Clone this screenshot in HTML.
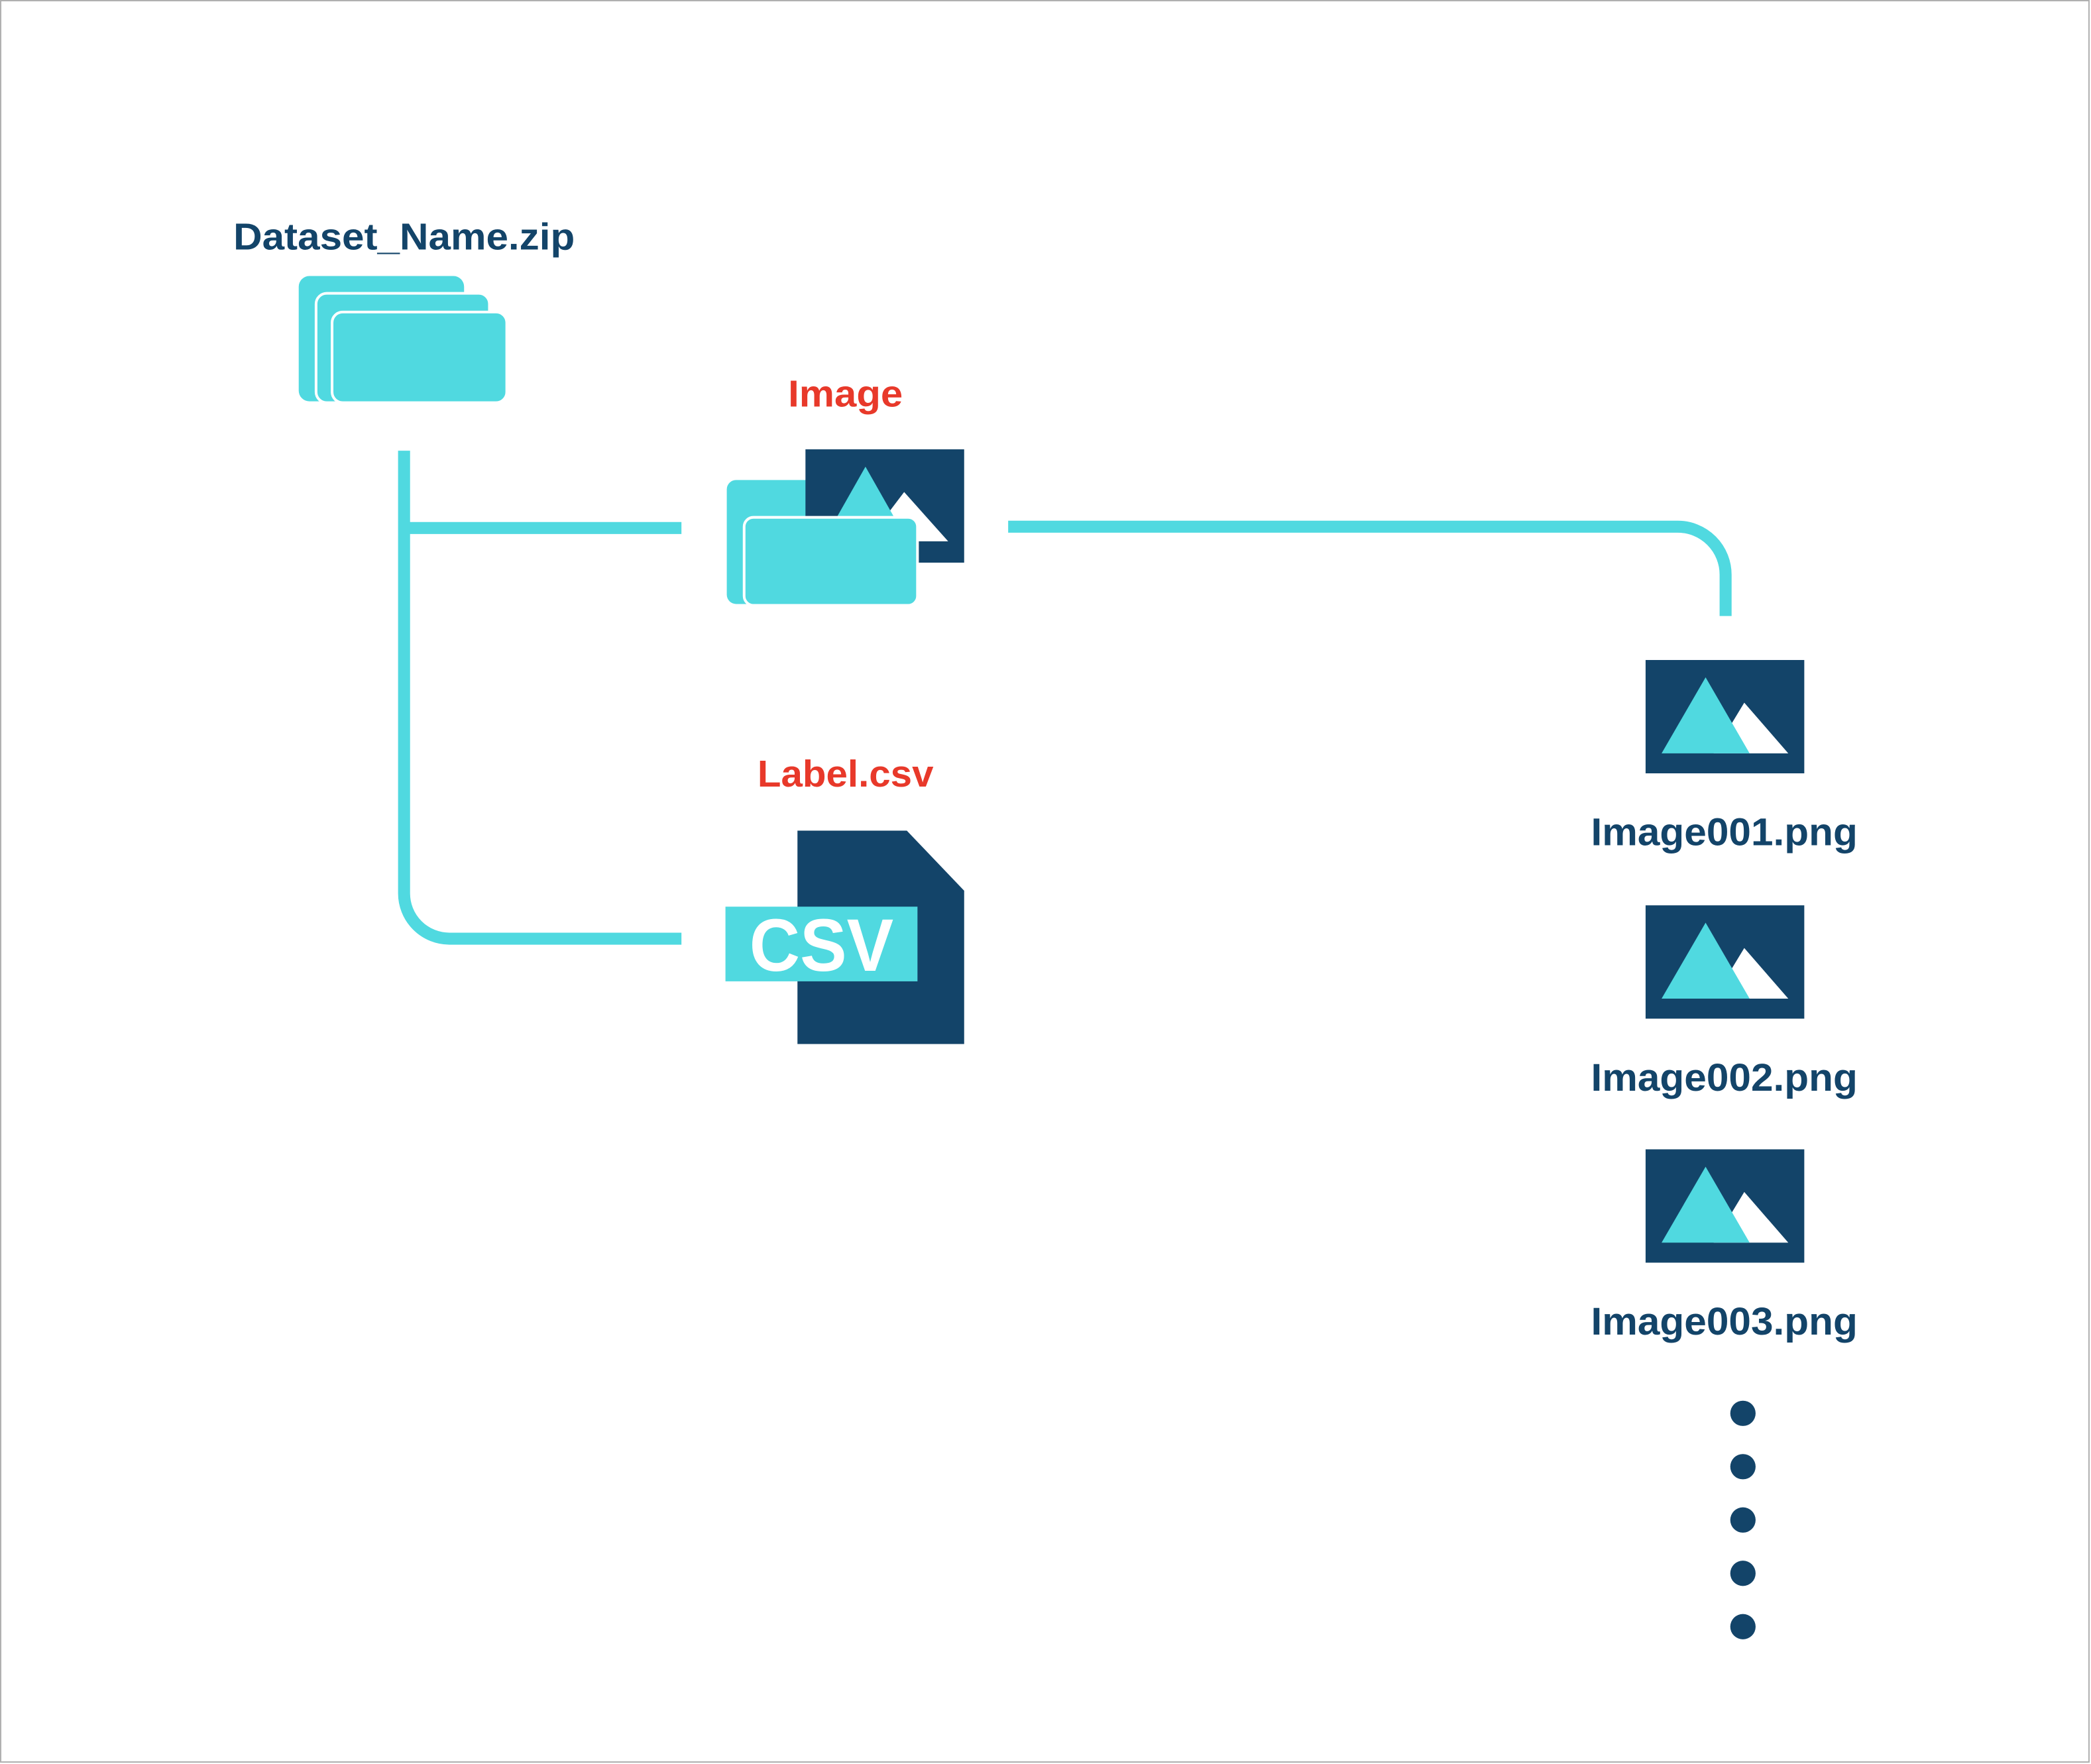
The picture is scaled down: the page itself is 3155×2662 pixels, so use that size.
<!DOCTYPE html>
<html><head><style>html,body{margin:0;padding:0;background:#fff}svg{display:block}</style></head>
<body>
<svg width="3155" height="2662" viewBox="0 0 1568 1323" xmlns="http://www.w3.org/2000/svg" font-family="'Liberation Sans', sans-serif" font-weight="bold">
<rect x="0.5" y="0.5" width="1566" height="1321" fill="#fff" stroke="#b0b0b0" stroke-width="1"/>
<g fill="none" stroke="#50d9e0" stroke-width="9">
<path d="M303 338 V670 A34 34 0 0 0 337 704 H511"/>
<path d="M303 396 H511"/>
<path d="M756 395 H1258 A36 36 0 0 1 1294 431 V462"/>
</g>
<text x="303" y="187" text-anchor="middle" font-size="28" fill="#134469" textLength="256" lengthAdjust="spacingAndGlyphs">Dataset_Name.zip</text>
<g fill="#50d9e0" stroke="#fff" stroke-width="2">
<rect x="224" y="207" width="124" height="94" rx="8" stroke="none"/>
<rect x="237" y="220" width="130" height="82" rx="8"/>
<rect x="249" y="234" width="131" height="68" rx="8"/>
</g>
<text x="634" y="305" text-anchor="middle" font-size="28" fill="#e8392a" textLength="86" lengthAdjust="spacingAndGlyphs">Image</text>
<rect x="545" y="360" width="80" height="93" rx="7" fill="#50d9e0"/>
<rect x="604" y="337" width="119" height="85" fill="#134469"/>
<polygon points="678,369 711,406 650,406" fill="#fff"/>
<polygon points="649,350 615,410 683,410" fill="#50d9e0"/>
<rect x="558" y="388" width="130" height="66" rx="7" fill="#50d9e0" stroke="#fff" stroke-width="2"/>
<text x="634" y="590" text-anchor="middle" font-size="28" fill="#e8392a" textLength="132" lengthAdjust="spacingAndGlyphs">Label.csv</text>
<polygon points="598,623 680,623 723,668 723,783 598,783" fill="#134469"/>
<rect x="544" y="680" width="144" height="56" fill="#50d9e0"/>
<text x="616" y="728" text-anchor="middle" font-size="56" fill="#fff" textLength="108" lengthAdjust="spacingAndGlyphs">CSV</text>
<g id="t">
<rect x="1234" y="495" width="119" height="85" fill="#134469"/>
<polygon points="1308,527 1341,565 1285,565" fill="#fff"/>
<polygon points="1279,508 1312,565 1246,565" fill="#50d9e0"/>
</g>
<use href="#t" y="184"/>
<use href="#t" y="367"/>
<g font-size="29" fill="#134469" text-anchor="middle">
<text x="1293" y="634" textLength="200" lengthAdjust="spacingAndGlyphs">Image001.png</text>
<text x="1293" y="818" textLength="200" lengthAdjust="spacingAndGlyphs">Image002.png</text>
<text x="1293" y="1001" textLength="200" lengthAdjust="spacingAndGlyphs">Image003.png</text>
</g>
<g fill="#134469">
<circle cx="1307" cy="1060" r="9.5"/><circle cx="1307" cy="1100" r="9.5"/><circle cx="1307" cy="1140" r="9.5"/><circle cx="1307" cy="1180" r="9.5"/><circle cx="1307" cy="1220" r="9.5"/>
</g>
</svg>
</body></html>
